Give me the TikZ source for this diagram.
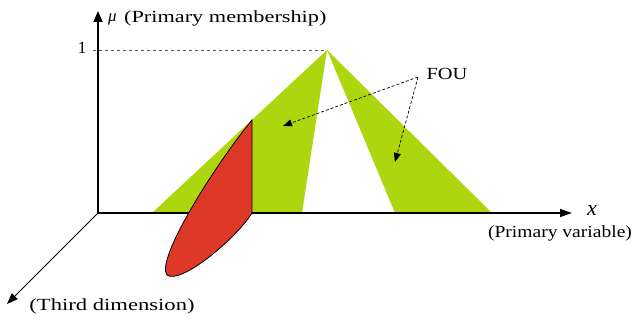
\documentclass[tikz,border=0pt]{standalone}
\usepackage{fontspec}
\setmainfont{Liberation Serif}
\usepackage{graphicx}
\usetikzlibrary{arrows.meta}
\definecolor{fougreen}{RGB}{172,214,14}
\definecolor{fsred}{RGB}{222,56,40}
\newcommand{\wx}[2]{\scalebox{#1}[1]{#2}}
\begin{document}
\begin{tikzpicture}[x=1pt,y=-1pt,
  axisline/.style={line width=2pt,-{Triangle[length=11pt,width=9pt]}},
  xaxisline/.style={line width=1.4pt,-{Triangle[length=12pt,width=8pt]}},
  thinaxis/.style={line width=1pt,-{Triangle[length=11pt,width=8pt]}},
  lbl/.style={font=\fontsize{17}{19}\selectfont,inner sep=0pt},
  fouarrow/.style={densely dashed,line width=0.7pt,-{Triangle[length=9pt,width=7pt]}},
  fouregion/.style={fill=fougreen,draw=none},
  secondary/.style={fill=fsred,draw=black,line width=0.8pt}]
\useasboundingbox (0,0) rectangle (635,320);
% coordinates
\coordinate (O) at (98,213);
\coordinate (Ytip) at (98,11);
\coordinate (Xtip) at (572,213);
\coordinate (Ztip) at (7,304);
\coordinate (apex) at (327,50);
\coordinate (tick) at (93,50);
\coordinate (fs) at (418,77);
\coordinate (fa) at (283,126);
\coordinate (fb) at (395,162);
% FOU regions
\fill[fouregion] (152,213) -- (apex) -- (302,213) -- cycle;
\fill[fouregion] (apex) -- (492,213) -- (395,213) -- cycle;
% axes
\draw[dashed,line width=0.6pt,gray!70!black] (tick) -- (apex);
\draw[axisline] (O) -- (Ytip);
\draw[xaxisline] (O) -- (Xtip);
\draw[thinaxis] (O) -- (Ztip);
% secondary membership function
\draw[secondary] (252,120) -- (252,213)
  .. controls (235,240) and (180,285) .. (167,275)
  .. controls (155,260) and (215,165) .. cycle;
% labels
\node[lbl,anchor=west] (mu) at (108,19) {\textit{μ}};
\node[lbl,anchor=west] (mem) at (124,18) {\wx{1.31}{(Primary membership)}};
\node[lbl] (one) at (82,48) {1};
\node[lbl,font=\fontsize{22}{24}\selectfont\itshape] (xl) at (592,210) {x};
\node[lbl] (pv) at (560,233) {\wx{1.15}{(Primary variable)}};
\node[lbl] (td) at (112,306) {\wx{1.33}{(Third dimension)}};
\node[lbl] (fou) at (447,74) {\wx{1.2}{FOU}};
% FOU arrows
\draw[fouarrow] (fs) -- (fa);
\draw[fouarrow] (fs) -- (fb);
\end{tikzpicture}
\end{document}
